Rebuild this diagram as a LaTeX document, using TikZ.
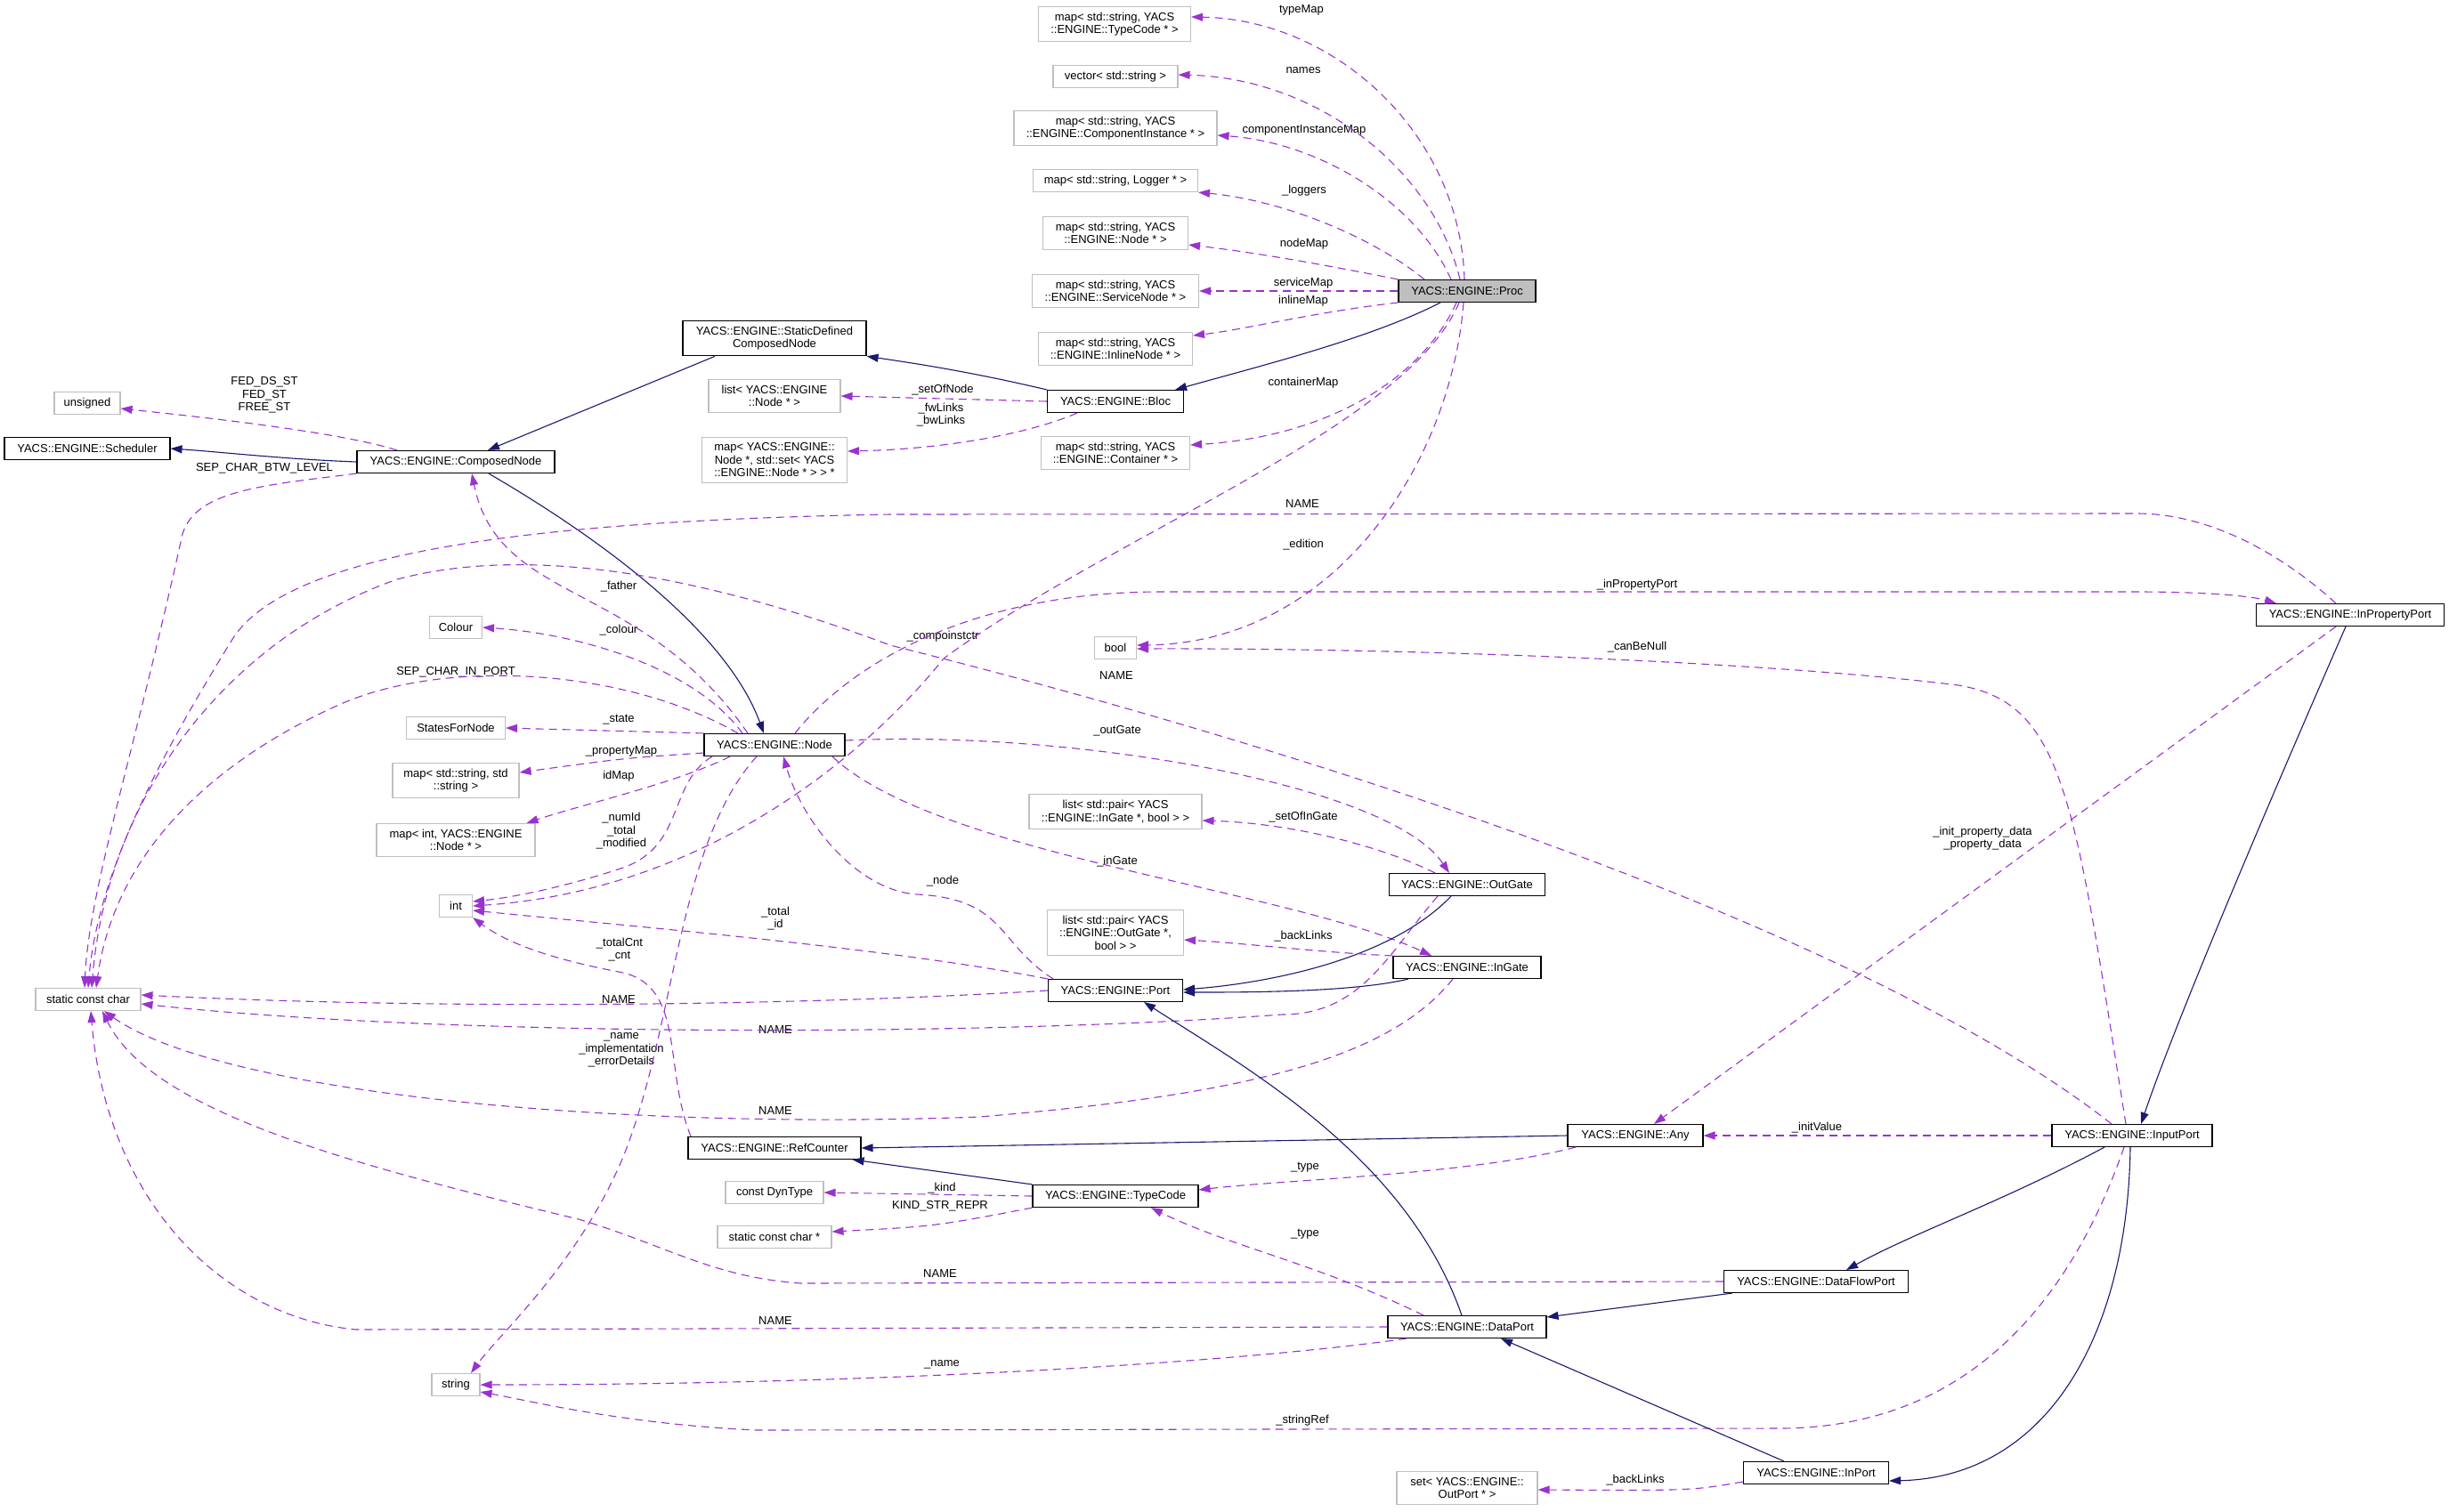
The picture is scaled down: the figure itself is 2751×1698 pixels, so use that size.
\documentclass[tikz,border=0pt]{standalone}
\usepackage{fontspec}
\setmainfont{Liberation Sans}
\usepackage{tikz}
\usetikzlibrary{arrows.meta, positioning}
\definecolor{edgepurple}{HTML}{9A32CD}
\definecolor{inhblue}{HTML}{191970}
\definecolor{boxgray}{HTML}{BFBFBF}

\begin{document}
\begin{tikzpicture}[x=1pt, y=-1pt,
      font=\fontsize{13}{14.5}\selectfont,
      cls/.style={draw=black, fill=white, line width=1.1pt,
                  inner xsep=10pt, inner ysep=6.5pt,
                  minimum height=25pt, align=center},
      ext/.style={cls, draw=boxgray},
      lbl/.style={inner sep=0pt, align=center},
      inherit/.style={draw=inhblue, line width=1.1pt,
                      -{Triangle[length=13pt,width=9pt]}},
      member/.style={draw=edgepurple, line width=1.1pt,
                     dash pattern=on 9pt off 6pt,
                     -{Triangle[length=13pt,width=9pt]}}]

    \useasboundingbox (0,0) rectangle (2751,1698);

    % ── Proc et ses membres ──
    \node[cls, fill=boxgray, minimum width=154pt] (proc) at (1648,327) {YACS::ENGINE::Proc};
    \node[ext, minimum width=171pt] (tmap) at (1252,27) {map< std::string, YACS\\::ENGINE::TypeCode * >};
    \node[ext, minimum width=140pt] (vecstr) at (1253,86) {vector< std::string >};
    \node[ext, minimum width=228pt] (cimap) at (1253,144) {map< std::string, YACS\\::ENGINE::ComponentInstance * >};
    \node[ext, minimum width=185pt] (logmap) at (1253,203) {map< std::string, Logger * >};
    \node[ext, minimum width=163pt] (nmap) at (1253,262) {map< std::string, YACS\\::ENGINE::Node * >};
    \node[ext, minimum width=187pt] (smap) at (1253,327) {map< std::string, YACS\\::ENGINE::ServiceNode * >};
    \node[ext, minimum width=173pt] (imap) at (1253,392) {map< std::string, YACS\\::ENGINE::InlineNode * >};
    \node[cls, minimum width=153pt] (bloc) at (1253,451) {YACS::ENGINE::Bloc};
    \node[ext, minimum width=167pt] (cmap) at (1253,509) {map< std::string, YACS\\::ENGINE::Container * >};

    % ── ComposedNode ──
    \node[cls, minimum width=206pt] (sdcn) at (870,380) {YACS::ENGINE::StaticDefined\\ComposedNode};
    \node[ext, minimum width=148pt] (lnode) at (870,445) {list< YACS::ENGINE\\::Node * >};
    \node[ext, minimum width=163pt] (fwmap) at (870,517) {map< YACS::ENGINE::\\Node *, std::set< YACS\\::ENGINE::Node * > > *};
    \node[ext, minimum width=74pt] (unsig) at (98,453) {unsigned};
    \node[cls, minimum width=186pt] (sched) at (98,504) {YACS::ENGINE::Scheduler};
    \node[cls, minimum width=222pt] (cnode) at (512,519) {YACS::ENGINE::ComposedNode};

    % ── Node ──
    \node[ext, minimum width=59pt] (colour) at (512,705) {Colour};
    \node[ext, minimum width=111pt] (states) at (512,818) {StatesForNode};
    \node[cls, minimum width=158pt] (node) at (870,837) {YACS::ENGINE::Node};
    \node[ext, minimum width=142pt] (propmap) at (512,877) {map< std::string, std\\::string >};
    \node[ext, minimum width=178pt] (idmap) at (512,944) {map< int, YACS::ENGINE\\::Node * >};
    \node[ext, minimum width=37pt] (intt) at (512,1018) {int};
    \node[ext, minimum width=118pt] (scc) at (99,1123) {static const char};
    \node[ext, minimum width=54pt] (strg) at (512,1556) {string};
    \node[ext, minimum width=47pt] (boolt) at (1253,728) {bool};

    % ── Ports et portes ──
    \node[ext, minimum width=194pt] (lingate) at (1253,912) {list< std::pair< YACS\\::ENGINE::InGate *, bool > >};
    \node[cls, minimum width=175pt] (outgate) at (1648,994) {YACS::ENGINE::OutGate};
    \node[ext, minimum width=153pt] (loutgate) at (1253,1048) {list< std::pair< YACS\\::ENGINE::OutGate *,\\bool > >};
    \node[cls, minimum width=166pt] (ingate) at (1648,1087) {YACS::ENGINE::InGate};
    \node[cls, minimum width=151pt] (port) at (1253,1113) {YACS::ENGINE::Port};
    \node[cls, minimum width=211pt] (inprop) at (2640,691) {YACS::ENGINE::InPropertyPort};
    \node[cls, minimum width=152pt] (any) at (1837,1276) {YACS::ENGINE::Any};
    \node[cls, minimum width=180pt] (inputport) at (2395,1276) {YACS::ENGINE::InputPort};
    \node[cls, minimum width=194pt] (refc) at (870,1290) {YACS::ENGINE::RefCounter};
    \node[ext, minimum width=110pt] (dyntype) at (870,1340) {const DynType};
    \node[ext, minimum width=128pt] (sccp) at (870,1390) {static const char *};
    \node[cls, minimum width=186pt] (typecode) at (1253,1344) {YACS::ENGINE::TypeCode};
    \node[cls, minimum width=207pt] (dfport) at (2040,1440) {YACS::ENGINE::DataFlowPort};
    \node[cls, minimum width=178pt] (dport) at (1648,1491) {YACS::ENGINE::DataPort};
    \node[cls, minimum width=163pt] (inport) at (2040,1655) {YACS::ENGINE::InPort};
    \node[ext, minimum width=158pt] (setout) at (1648,1672) {set< YACS::ENGINE::\\OutPort * >};

    % ── Étiquettes ──
    \node[lbl] (ttypemap) at (1462,11) {typeMap};
    \node[lbl] (tnames) at (1464,79) {names};
    \node[lbl] (tcimap) at (1465,146) {componentInstanceMap};
    \node[lbl] (tloggers) at (1465,214) {\_loggers};
    \node[lbl] (tnodemap) at (1465,274) {nodeMap};
    \node[lbl] (tservmap) at (1464,318) {serviceMap};
    \node[lbl] (tinlmap) at (1464,338) {inlineMap};
    \node[lbl] (tcontmap) at (1464,430) {containerMap};
    \node[lbl] (tsetnode) at (1059,438) {\_setOfNode};
    \node[lbl] (tfwlinks) at (1057,466) {\_fwLinks\\\_bwLinks};
    \node[lbl] (tfedst) at (297,444) {FED\_DS\_ST\\FED\_ST\\FREE\_ST};
    \node[lbl] (tsepbtw) at (297,526) {SEP\_CHAR\_BTW\_LEVEL};
    \node[lbl] (tnamepp) at (1463,566) {NAME};
    \node[lbl] (tedition) at (1464,612) {\_edition};
    \node[lbl] (tinprop) at (1839,657) {\_inPropertyPort};
    \node[lbl] (tfather) at (695,659) {\_father};
    \node[lbl] (tcolour) at (695,708) {\_colour};
    \node[lbl] (tcompo) at (1059,715) {\_compoinstctr};
    \node[lbl] (tcanbenull) at (1839,727) {\_canBeNull};
    \node[lbl] (tsepin) at (512,755) {SEP\_CHAR\_IN\_PORT};
    \node[lbl] (tnameip) at (1254,759) {NAME};
    \node[lbl] (tstate) at (695,809) {\_state};
    \node[lbl] (toutgate) at (1255,821) {\_outGate};
    \node[lbl] (tpropmap) at (698,844) {\_propertyMap};
    \node[lbl] (tidmap) at (695,872) {idMap};
    \node[lbl] (tsetingate) at (1464,918) {\_setOfInGate};
    \node[lbl] (tnumid) at (698,934) {\_numId\\\_total\\\_modified};
    \node[lbl] (tpropdata) at (2227,942) {\_init\_property\_data\\\_property\_data};
    \node[lbl] (tingate) at (1255,968) {\_inGate};
    \node[lbl] (tnode) at (1059,990) {\_node};
    \node[lbl] (ttotalid) at (871,1032) {\_total\\\_id};
    \node[lbl] (tbacklinks) at (1464,1052) {\_backLinks};
    \node[lbl] (ttotalcnt) at (696,1067) {\_totalCnt\\\_cnt};
    \node[lbl] (tnameport) at (695,1123) {NAME};
    \node[lbl] (tnameog) at (871,1157) {NAME};
    \node[lbl] (tnamenode) at (698,1180) {\_name\\\_implementation\\\_errorDetails};
    \node[lbl] (tnameig) at (871,1248) {NAME};
    \node[lbl] (tinitval) at (2041,1267) {\_initValue};
    \node[lbl] (ttypeany) at (1466,1312) {\_type};
    \node[lbl] (tkind) at (1058,1335) {\_kind};
    \node[lbl] (tkindstr) at (1056,1355) {KIND\_STR\_REPR};
    \node[lbl] (ttypedp) at (1466,1387) {\_type};
    \node[lbl] (tnamedf) at (1056,1431) {NAME};
    \node[lbl] (tnamedp) at (871,1484) {NAME};
    \node[lbl] (tnamestr) at (1058,1533) {\_name};
    \node[lbl] (tstringref) at (1463,1596) {\_stringRef};
    \node[lbl] (tbacklinks2) at (1837,1663) {\_backLinks};

    % ── Flèches de Proc ──
    \draw[member] ([xshift=-3pt]proc.north) .. controls (1640,150) and (1500,22) .. ([yshift=8pt]tmap.east);
    \draw[member] ([xshift=-8pt]proc.north) .. controls (1610,190) and (1480,88) .. ([yshift=2pt]vecstr.east);
    \draw[member] ([xshift=-18pt]proc.north) .. controls (1590,225) and (1480,160) .. ([yshift=-8pt]cimap.east);
    \draw[member] ([xshift=-48pt]proc.north) .. controls (1540,265) and (1440,225) .. (logmap.south east);
    \draw[member] (proc.north west) .. controls (1500,300) and (1420,285) .. ([yshift=-13pt]nmap.east);
    \draw[member] (proc.west) -- (smap.east);
    \draw[member] (proc.south west) .. controls (1480,350) and (1400,370) .. ([yshift=15pt]imap.east);
    \draw[member] ([xshift=-12pt]proc.south) .. controls (1600,420) and (1500,490) .. ([yshift=9pt]cmap.east);
    \draw[member] ([xshift=-4pt]proc.south) .. controls (1630,520) and (1500,722) .. ([yshift=3pt]boolt.east);
    \draw[member] ([xshift=-9pt]proc.south) .. controls (1580,480) and (1250,600) .. (1060,740)
                  .. controls (980,840) and (800,1000) .. (intt.east);
    \draw[inherit] ([xshift=-30pt]proc.south) .. controls (1540,380) and (1420,410) .. ([xshift=-10pt]bloc.north east);

    % ── Bloc et ComposedNode ──
    \draw[inherit] (bloc.north west) .. controls (1100,420) and (1040,410) .. (sdcn.south east);
    \draw[member] (bloc.west) -- (lnode.east);
    \draw[member] ([xshift=-43pt]bloc.south) .. controls (1150,490) and (1050,505) .. ([yshift=10pt]fwmap.east);
    \draw[inherit] ([xshift=-67pt]sdcn.south) -- ([xshift=36pt]cnode.north);
    \draw[inherit] (cnode.west) .. controls (320,516) and (250,508) .. (sched.east);
    \draw[member] ([xshift=-66pt]cnode.north) .. controls (380,485) and (220,468) .. ([yshift=-6pt]unsig.east);
    \draw[member] (cnode.south west) .. controls (300,545) and (220,550) .. (205,600)
                  .. controls (150,850) and (100,1000) .. ([xshift=-4pt]scc.north);
    \draw[inherit] ([xshift=37pt]cnode.south) .. controls (700,620) and (820,720) .. ([xshift=-12pt]node.north);

    % ── Flèches de Node ──
    \draw[member] ([xshift=-30pt]node.north) .. controls (720,650) and (560,680) .. ([xshift=18pt]cnode.south);
    \draw[member] ([xshift=-36pt]node.north) .. controls (780,750) and (650,712) .. (colour.east);
    \draw[member] ([xshift=-41pt]node.north) .. controls (700,750) and (500,740) .. (383,791)
                  .. controls (250,850) and (130,950) .. ([xshift=9pt]scc.north);
    \draw[member] (node.north west) -- (states.east);
    \draw[member] ([yshift=-9pt]node.west) .. controls (700,852) .. ([yshift=9pt]propmap.east);
    \draw[member] ([xshift=-50pt]node.south) .. controls (760,880) and (650,905) .. ([xshift=-10pt]idmap.north east);
    \draw[member] ([xshift=-70pt]node.south) .. controls (750,880) and (770,950) .. (700,975)
                  .. controls (640,995) and (580,1008) .. ([yshift=5pt]intt.east);
    \draw[member] ([xshift=-20pt]node.south) .. controls (760,950) and (760,1150) .. (700,1300)
                  .. controls (650,1420) and (560,1500) .. ([xshift=17pt]strg.north);
    \draw[member] ([yshift=5pt]node.east) .. controls (1200,820) and (1560,880) .. ([xshift=-20pt]outgate.north);
    \draw[member] ([xshift=65pt]node.south) .. controls (1050,960) and (1450,1000) .. ([xshift=-40pt]ingate.north);
    \draw[member] ([xshift=23pt]node.north) .. controls (960,740) and (1100,666) .. (1300,665) -- (2400,665)
                  .. controls (2480,665) and (2530,670) .. ([xshift=-83pt]inprop.north);

    % ── Port, OutGate, InGate ──
    \draw[member] ([xshift=-70pt]port.north) .. controls (1120,1060) and (1130,1010) .. (1030,1005)
                  .. controls (960,1000) and (900,920) .. ([xshift=10pt]node.south);
    \draw[member] (port.north west) .. controls (1000,1065) and (700,1040) .. ([yshift=-5pt]intt.east);
    \draw[member] (port.west) .. controls (900,1130) and (500,1135) .. ([yshift=5pt]scc.east);
    \draw[inherit] ([xshift=-18pt]outgate.south) .. controls (1560,1080) and (1420,1105) .. ([yshift=1pt]port.east);
    \draw[inherit] ([xshift=-66pt]ingate.south) .. controls (1520,1115) and (1400,1115) .. ([yshift=-2pt]port.east);
    \draw[member] ([xshift=-36pt]outgate.north) .. controls (1550,950) and (1450,925) .. ([yshift=-10pt]lingate.east);
    \draw[member] (ingate.north west) .. controls (1480,1070) and (1400,1060) .. ([yshift=-8pt]loutgate.east);
    \draw[member] ([xshift=-33pt]outgate.south) .. controls (1560,1070) and (1530,1140) .. (1440,1140)
                  .. controls (1100,1165) and (500,1165) .. ([yshift=-5pt]scc.east);
    \draw[member] ([xshift=-16pt]ingate.south) .. controls (1560,1190) and (1400,1230) .. (1100,1255)
                  .. controls (700,1270) and (250,1230) .. ([xshift=18pt]scc.south);

    % ── RefCounter, Any, TypeCode ──
    \draw[member] ([xshift=-94pt]refc.north) .. controls (745,1200) and (770,1110) .. (700,1093)
                  .. controls (620,1078) and (570,1060) .. (intt.south east);
    \draw[inherit] (any.west) -- (refc.east);
    \draw[inherit] (typecode.north west) -- ([xshift=-10pt]refc.south east);
    \draw[member] ([xshift=-67pt]any.south) .. controls (1650,1320) and (1450,1325) .. ([yshift=7pt]typecode.east);
    \draw[member] (typecode.west) -- (dyntype.east);
    \draw[member] (typecode.south west) .. controls (1050,1378) .. ([yshift=6pt]sccp.east);

    % ── DataPort, DataFlowPort ──
    \draw[inherit] ([xshift=-6pt]dport.north) .. controls (1580,1300) and (1400,1200) .. ([xshift=32pt]port.south);
    \draw[member] ([xshift=-49pt]dport.north) .. controls (1480,1420) and (1380,1400) .. ([xshift=40pt]typecode.south);
    \draw[member] (dport.west) -- (400,1494) .. controls (250,1480) and (120,1350) .. ([xshift=3pt]scc.south);
    \draw[member] ([xshift=-68pt]dport.south) .. controls (1400,1530) and (1000,1556) .. (strg.east);
    \draw[inherit] ([xshift=-94pt]dfport.south) -- ([yshift=11pt]dport.east);
    \draw[member] (dfport.west) -- (900,1442) .. controls (800,1435) and (750,1400) .. (650,1370)
                  .. controls (400,1310) and (170,1250) .. ([xshift=16pt]scc.south);

    % ── InputPort, InPort, InPropertyPort ──
    \draw[member] (inputport.west) -- (any.east);
    \draw[member] ([xshift=-7pt]inputport.north) .. controls (2330,900) and (2320,790) .. (2200,770)
                  .. controls (2000,745) and (1600,728) .. ([yshift=-1pt]boolt.east);
    \draw[member] ([xshift=-23pt]inputport.north) .. controls (2100,1050) and (1500,850) .. (1000,725)
                  .. controls (800,650) and (600,610) .. (446,651)
                  .. controls (250,720) and (120,900) .. ([xshift=4pt]scc.north);
    \draw[member] ([xshift=-9pt]inputport.south) .. controls (2330,1450) and (2220,1604) .. (2000,1605) -- (850,1607)
                  .. controls (700,1600) and (600,1575) .. ([yshift=-8pt]strg.east);
    \draw[inherit] ([xshift=-31pt]inputport.south) .. controls (2250,1350) and (2150,1385) .. ([xshift=34pt]dfport.north);
    \draw[inherit] ([xshift=-2pt]inputport.south) .. controls (2390,1500) and (2300,1660) .. ([yshift=-9pt]inport.east);
    \draw[inherit] ([xshift=-36pt]inport.north) -- ([xshift=38pt]dport.south);
    \draw[member] ([yshift=-10pt]inport.west) .. controls (1900,1675) .. ([yshift=-2pt]setout.east);
    \draw[inherit] ([xshift=-5pt]inprop.south) .. controls (2580,830) and (2450,1130) .. ([xshift=10pt]inputport.north);
    \draw[member] ([xshift=-16pt]inprop.south) -- ([xshift=21pt]any.north);
    \draw[member] ([xshift=-16pt]inprop.north) .. controls (2560,620) and (2480,577) .. (2400,577) -- (1000,578)
                  .. controls (600,585) and (320,620) .. (260,720)
                  .. controls (180,850) and (110,980) .. (scc.north);

  \end{tikzpicture}
\end{document}
